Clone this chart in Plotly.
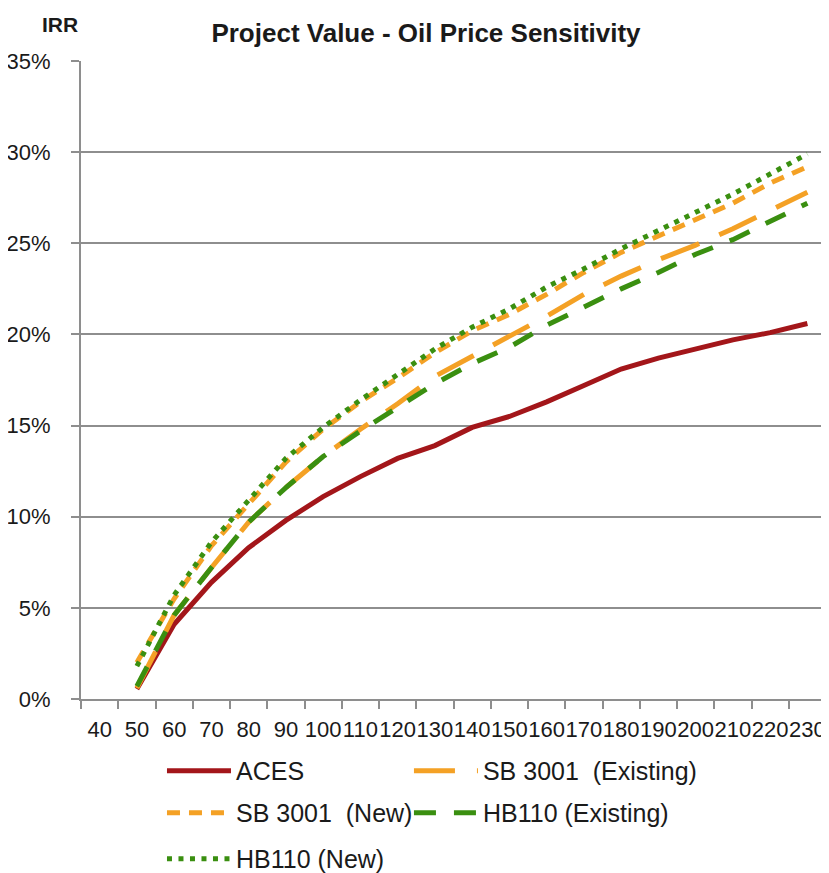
import plotly.graph_objects as go

categories = [str(v) for v in range(40, 240, 10)]
prices = [str(v) for v in range(50, 240, 10)]

aces = [0.55, 4.1, 6.4, 8.3, 9.8, 11.1, 12.2, 13.2, 13.9, 14.9, 15.5, 16.3, 17.2, 18.1, 18.7, 19.2, 19.7, 20.1, 20.6]
sb_existing = [0.6, 4.6, 7.2, 9.7, 11.6, 13.3, 14.8, 16.2, 17.7, 18.8, 19.9, 21.0, 22.2, 23.2, 24.1, 24.9, 25.8, 26.8, 27.8]
sb_new = [2.0, 5.5, 8.4, 10.7, 13.0, 14.8, 16.3, 17.6, 19.0, 20.2, 21.1, 22.2, 23.4, 24.5, 25.4, 26.3, 27.2, 28.3, 29.2]
hb_existing = [0.7, 4.6, 7.2, 9.7, 11.6, 13.3, 14.7, 16.0, 17.3, 18.4, 19.3, 20.5, 21.5, 22.5, 23.4, 24.4, 25.2, 26.2, 27.2]
hb_new = [1.8, 5.7, 8.6, 10.9, 13.2, 14.9, 16.4, 17.8, 19.2, 20.4, 21.4, 22.6, 23.6, 24.7, 25.7, 26.7, 27.7, 28.8, 29.9]

y_ticks = [0, 5, 10, 15, 20, 25, 30, 35]
y_tick_labels = [f"{v}%" for v in y_ticks]

RED = "#A3161A"
ORANGE = "#F4A125"
GREEN = "#3A8F10"
GRID = "#8E8E8E"
SANS = "Liberation Sans, Arial"

# the page body adds an 8px offset, so the figure is 8px smaller than the window
W, H = 821, 865

# (name, values, colour, dash, legend id, legend x in paper, legend y in paper)
series = [
    ("ACES", aces, RED, "solid", "legend", 0.1087, -0.0768),
    ("SB 3001 \u00a0(Existing)", sb_existing, ORANGE, "41px,22px", "legend2", 0.4402, -0.0768),
    ("SB 3001 \u00a0(New)", sb_new, ORANGE, "13px,9px", "legend3", 0.1087, -0.1426),
    ("HB110 (Existing)", hb_existing, GREEN, "22px,18px", "legend4", 0.4402, -0.1426),
    ("HB110 (New)", hb_new, GREEN, "5px,6.5px", "legend5", 0.1087, -0.2147),
]

fig = go.Figure()
legends = {}
for name, vals, color, dash, leg, lx, ly in series:
    fig.add_trace(go.Scatter(
        x=prices, y=vals, name=name, mode="lines",
        line=dict(color=color, width=5, dash=dash),
        legend=leg, showlegend=True,
    ))
    legends[leg] = dict(
        orientation="h", xanchor="left", yanchor="top", x=lx, y=ly,
        itemwidth=64,
        font=dict(family=SANS, size=25, color="#1a1a1a"),
        bgcolor="rgba(0,0,0,0)", visible=True,
    )

fig.update_layout(
    width=W, height=H, showlegend=True,
    margin=dict(l=73, r=3, t=53, b=174, autoexpand=False),
    paper_bgcolor="white", plot_bgcolor="white",
    title=dict(text="<b>Project Value - Oil Price Sensitivity</b>",
               font=dict(family=SANS, size=26, color="#1a1a1a"),
               x=418 / W, xref="container", xanchor="center",
               y=1 - 25 / H, yref="container", yanchor="middle"),
    xaxis=dict(type="category", categoryorder="array", categoryarray=categories,
               range=[-0.5, len(categories) - 0.5],
               tickson="boundaries", ticks="outside", ticklen=8, tickwidth=2,
               tickcolor=GRID, showline=True, linecolor=GRID, linewidth=2,
               showgrid=False, tickangle=0, ticklabelstandoff=10,
               tickfont=dict(family=SANS, size=22, color="#1a1a1a")),
    yaxis=dict(range=[0, 35], tickmode="array", tickvals=y_ticks, ticktext=y_tick_labels,
               ticks="outside", ticklen=8, tickwidth=2, tickcolor=GRID,
               showline=True, linecolor=GRID, linewidth=2,
               showgrid=True, gridcolor=GRID, gridwidth=2, zeroline=False,
               ticklabelstandoff=16,
               tickfont=dict(family=SANS, size=22, color="#1a1a1a")),
    annotations=[dict(text="<b>IRR</b>", xref="paper", yref="paper",
                      x=-0.0282, y=1.0572,
                      xanchor="center", yanchor="middle", showarrow=False,
                      font=dict(family=SANS, size=21, color="#1a1a1a"))],
    **legends,
)

fig.write_html("out.html")
